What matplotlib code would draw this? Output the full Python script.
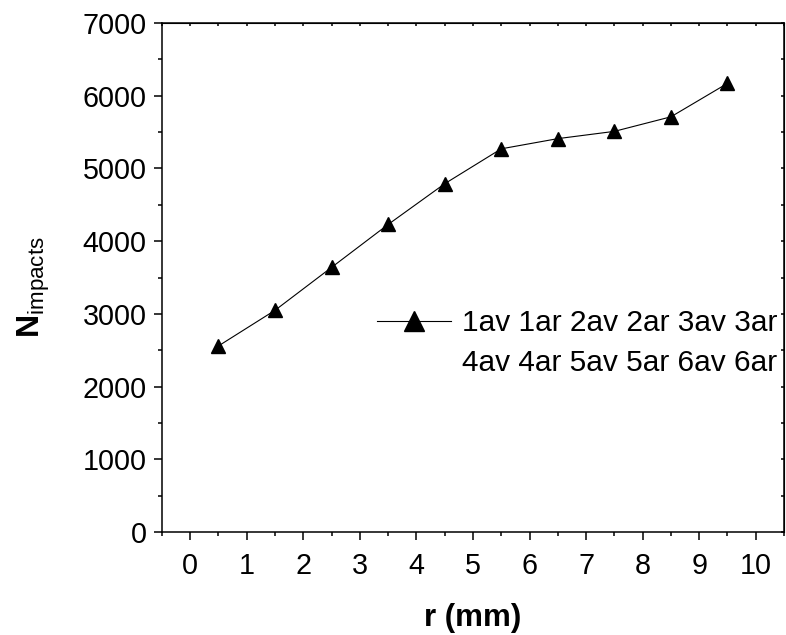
import matplotlib
matplotlib.use("Agg")
import matplotlib.pyplot as plt
from matplotlib.lines import Line2D
from matplotlib.ticker import MultipleLocator

plt.rcParams['font.family'] = ['Liberation Sans', 'DejaVu Sans']
plt.rcParams['mathtext.fontset'] = 'custom'
plt.rcParams['mathtext.rm'] = 'Liberation Sans'
plt.rcParams['mathtext.bf'] = 'Liberation Sans:bold'

r_mm = [0.5, 1.5, 2.5, 3.5, 4.5, 5.5, 6.5, 7.5, 8.5, 9.5]
n_impacts = [2560, 3050, 3640, 4230, 4790, 5270, 5410, 5510, 5710, 6170]
legend_line1 = "1av 1ar 2av 2ar 3av 3ar"
legend_line2 = "4av 4ar 5av 5ar 6av 6ar"
x_ticks = list(range(0, 11))
y_ticks = list(range(0, 7001, 1000))

fig = plt.figure(figsize=(7.86, 6.35), dpi=100)
ax = fig.add_axes([0.206, 0.162, 0.7915, 0.8018])

ax.plot(r_mm, n_impacts, color='black', lw=0.8, marker='^', ms=10,
        markerfacecolor='black', markeredgecolor='black')

ax.set_xlim(-0.5, 10.5)
ax.set_ylim(0, 7000)
ax.set_xticks(x_ticks)
ax.set_yticks(y_ticks)
ax.xaxis.set_minor_locator(MultipleLocator(0.5))
ax.yaxis.set_minor_locator(MultipleLocator(500))
ax.tick_params(which='major', direction='out', length=6, width=1.1,
               labelsize=20.7, pad=5)
ax.tick_params(which='minor', direction='out', length=3, width=1.1)
ax.tick_params(axis='x', pad=8)
for s in ax.spines.values():
    s.set_linewidth(1.1)

secx = ax.secondary_xaxis('top')
secx.set_xticks([i * 0.5 - 0.5 for i in range(23)])
secx.tick_params(direction='in', length=2.5, width=1.1, labeltop=False)
secy = ax.secondary_yaxis('right')
secy.set_yticks(list(range(0, 7001, 500)))
secy.tick_params(direction='in', length=2.5, width=1.1, labelright=False)

ax.set_xlabel('r (mm)', fontsize=22.5, fontweight='bold')
ax.xaxis.set_label_coords(0.5, -0.139)
ax.set_ylabel(r'$\mathbf{N}_{\mathrm{impacts}}$', fontsize=23)
ax.yaxis.set_label_coords(-0.177, 0.481)

h1 = Line2D([], [], color='black', lw=0.8, marker='^', ms=14,
            markerfacecolor='black')
h2 = Line2D([], [], color='none', lw=0)
ax.legend([h1, h2], [legend_line1, legend_line2], loc='upper left',
          bbox_to_anchor=(0.345, 0.438), frameon=False, fontsize=21.5,
          handlelength=2.5, handletextpad=0.35, labelspacing=0.4,
          borderaxespad=0, borderpad=0)

fig.savefig('out.png', dpi=100)
